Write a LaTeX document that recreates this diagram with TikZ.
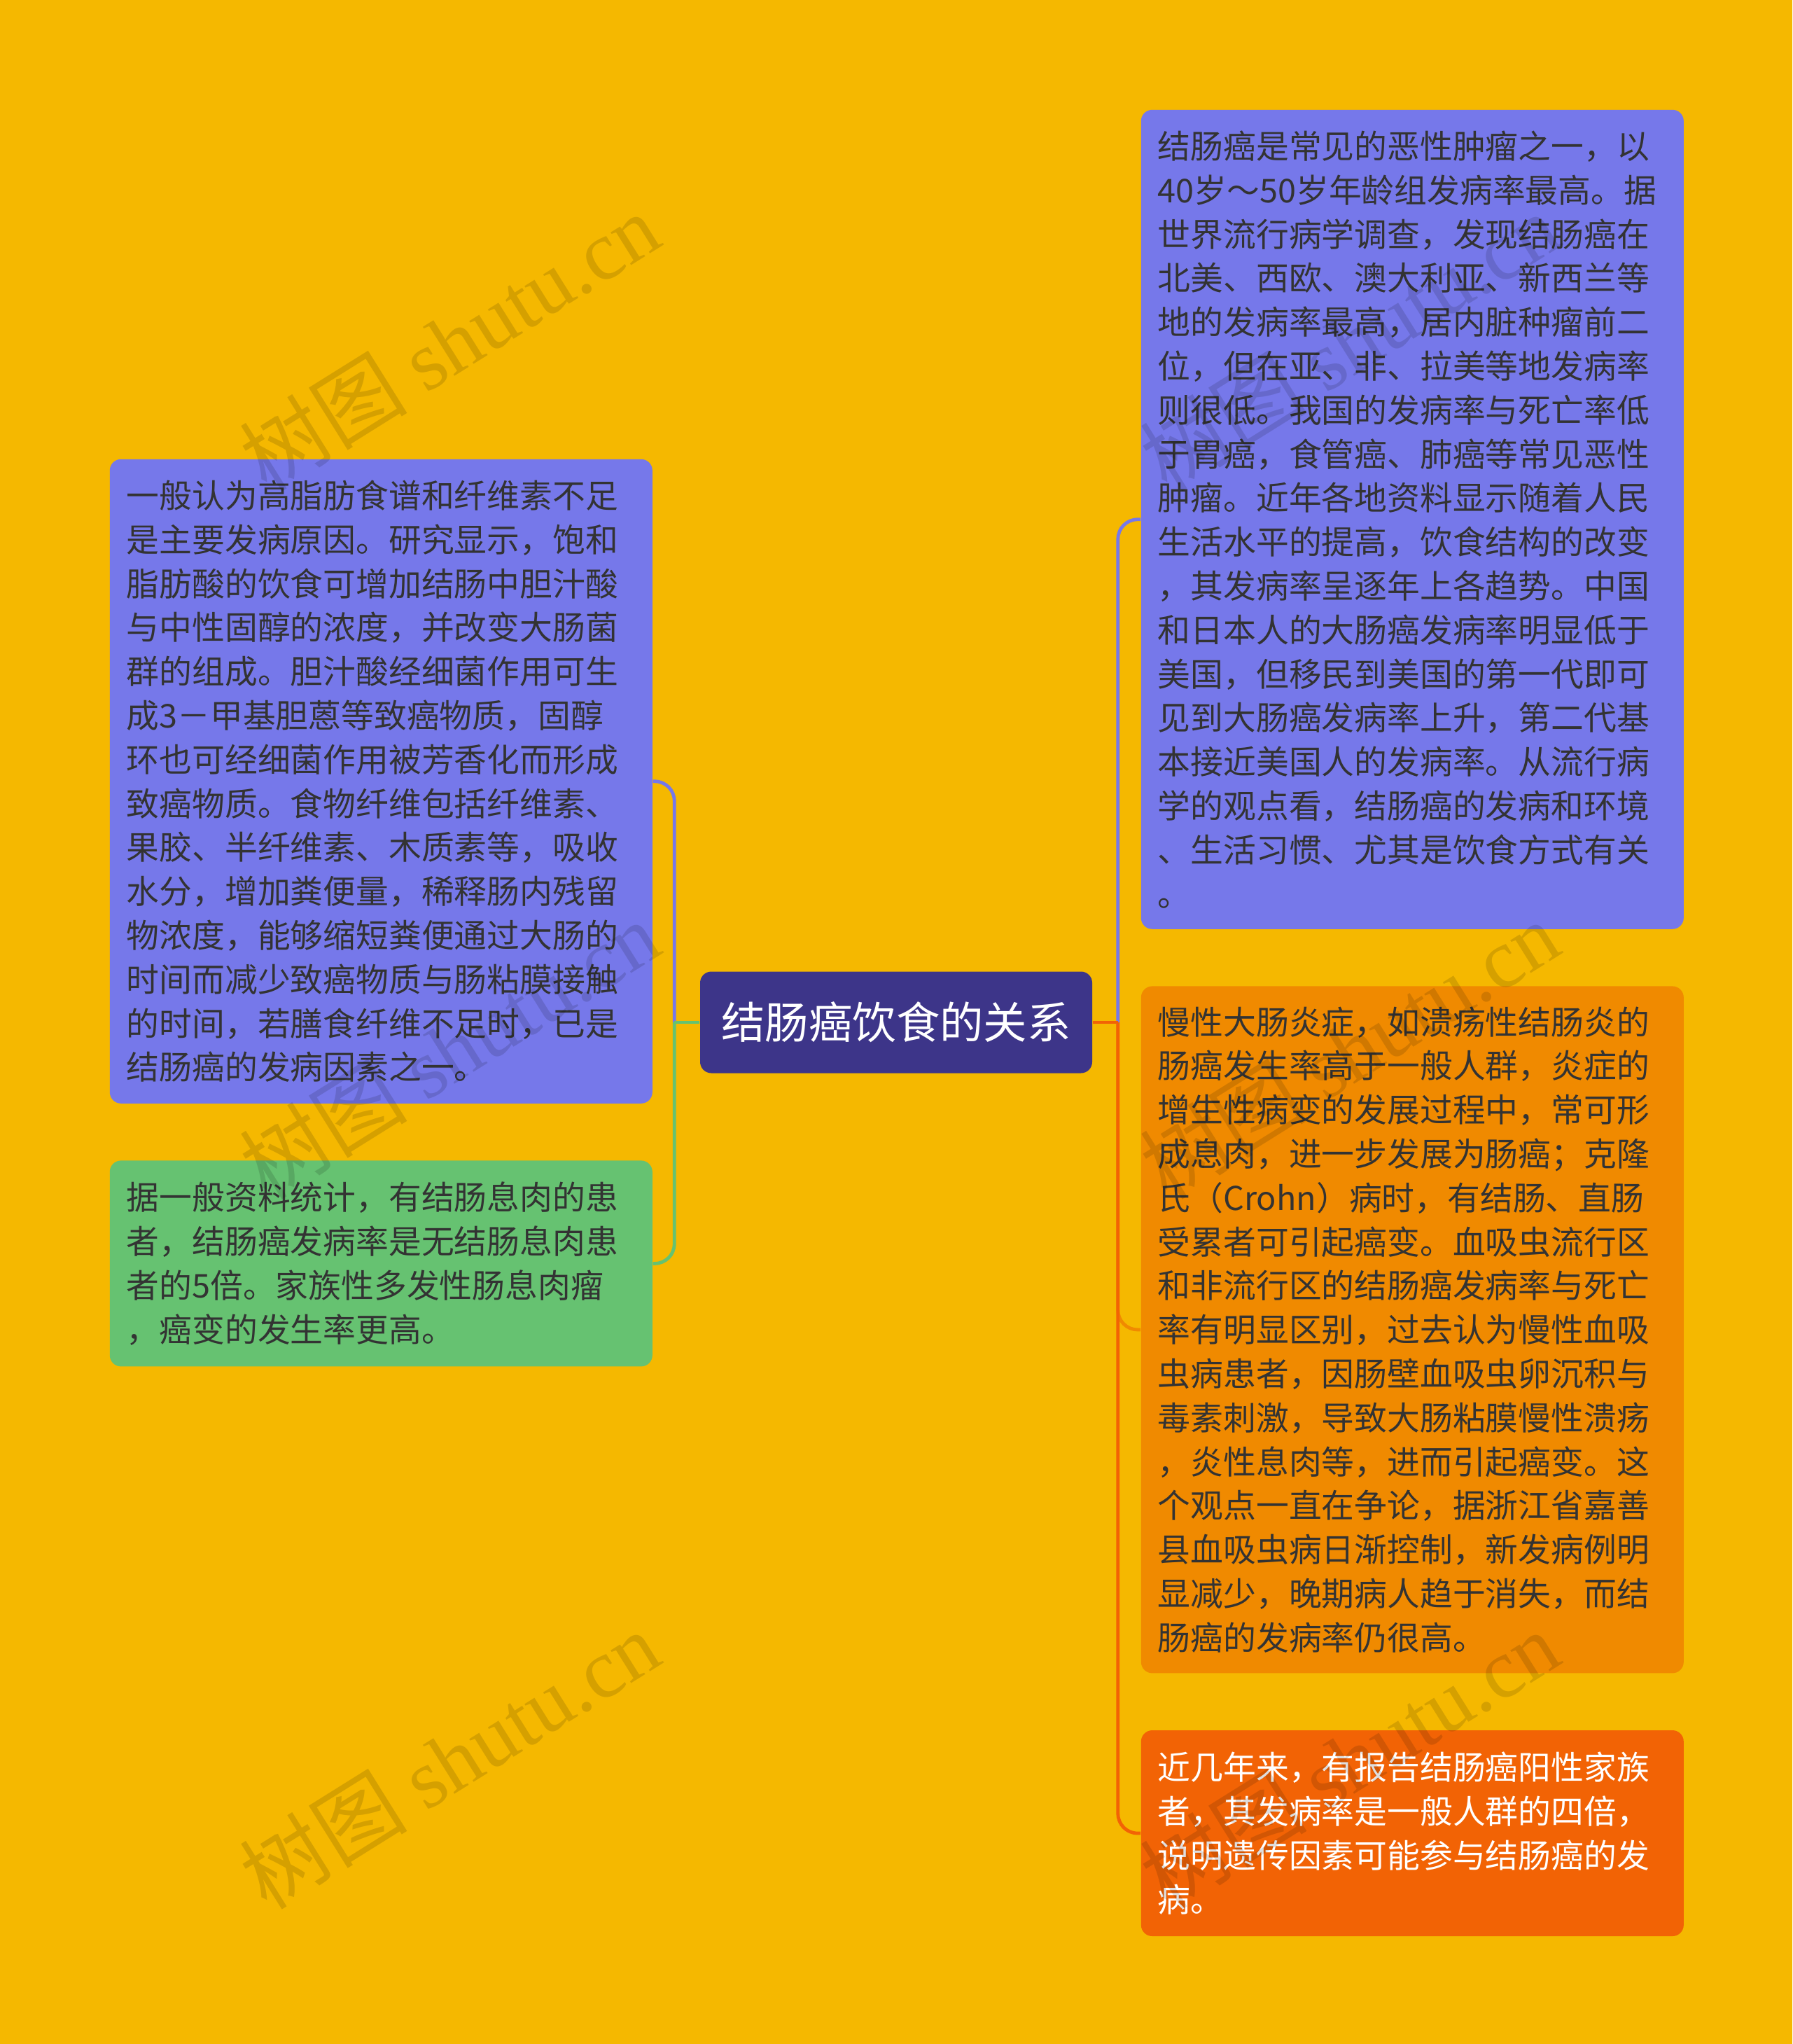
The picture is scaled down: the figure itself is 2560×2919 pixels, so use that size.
\documentclass[tikz,border=0pt]{standalone}
\usepackage{fontspec}
\setmainfont{Noto Sans CJK SC}
\newfontfamily\wmlatin{Liberation Serif}
\usetikzlibrary{positioning}

\definecolor{bgyellow}{HTML}{F5B800}
\definecolor{leafblue}{HTML}{7678EA}
\definecolor{rootblue}{HTML}{3D3589}
\definecolor{leaforange}{HTML}{F08A00}
\definecolor{leafred}{HTML}{F26305}
\definecolor{leafgreen}{HTML}{66C271}
\definecolor{txtdark}{HTML}{333333}

\tikzset{
  leaf/.style={rectangle, rounded corners=4pt, anchor=north west, align=left,
    text width=181.75pt, inner xsep=6pt, inner ysep=0pt, minimum width=193.75pt,
    text=txtdark, font=\fontsize{11.7}{15.7}\selectfont},
  link/.style={line width=1.2pt, rounded corners=7pt},
  mark text/.style={rotate=32, text=black, text opacity=0.13, font=\fontsize{30}{30}\selectfont},
}

\begin{document}
\begin{tikzpicture}[x=0.25pt, y=-0.25pt]
  \fill[bgyellow] (0,0) rectangle (2560,2919);
  \useasboundingbox (0,0) rectangle (2560,2919);

  % centre
  \node[rectangle, rounded corners=4pt, fill=rootblue, text=white, minimum width=140pt,
    minimum height=36.25pt, font=\fontsize{15.6}{18}\selectfont] (root) at (1280,1460) {结肠癌饮食的关系};
  \coordinate (ltrunk) at ([xshift=-9pt]root.west);
  \coordinate (rtrunk) at ([xshift=9pt]root.east);

  % left side
  \node[leaf, fill=leafblue, minimum height=230pt] (diet) at (156,655) {一般认为高脂肪食谱和纤维素不足\\是主要发病原因。研究显示，饱和\\脂肪酸的饮食可增加结肠中胆汁酸\\与中性固醇的浓度，并改变大肠菌\\群的组成。胆汁酸经细菌作用可生\\成3－甲基胆蒽等致癌物质，固醇\\环也可经细菌作用被芳香化而形成\\致癌物质。食物纤维包括纤维素、\\果胶、半纤维素、木质素等，吸收\\水分，增加粪便量，稀释肠内残留\\物浓度，能够缩短粪便通过大肠的\\时间而减少致癌物质与肠粘膜接触\\的时间，若膳食纤维不足时，已是\\结肠癌的发病因素之一。};
  \node[leaf, fill=leafgreen, minimum height=73.5pt, below=20pt of diet] (polyp) {据一般资料统计，有结肠息肉的患\\者，结肠癌发病率是无结肠息肉患\\者的5倍。家族性多发性肠息肉瘤\\，癌变的发生率更高。};

  % right side
  \node[leaf, fill=leafblue, minimum height=292.5pt] (epid) at (1629,156) {结肠癌是常见的恶性肿瘤之一，以\\40岁～50岁年龄组发病率最高。据\\世界流行病学调查，发现结肠癌在\\北美、西欧、澳大利亚、新西兰等\\地的发病率最高，居内脏种瘤前二\\位，但在亚、非、拉美等地发病率\\则很低。我国的发病率与死亡率低\\于胃癌，食管癌、肺癌等常见恶性\\肿瘤。近年各地资料显示随着人民\\生活水平的提高，饮食结构的改变\\，其发病率呈逐年上各趋势。中国\\和日本人的大肠癌发病率明显低于\\美国，但移民到美国的第一代即可\\见到大肠癌发病率上升，第二代基\\本接近美国人的发病率。从流行病\\学的观点看，结肠癌的发病和环境\\、生活习惯、尤其是饮食方式有关\\。};
  \node[leaf, fill=leaforange, minimum height=245.25pt, below=20pt of epid] (colitis) {慢性大肠炎症，如溃疡性结肠炎的\\肠癌发生率高于一般人群，炎症的\\增生性病变的发展过程中，常可形\\成息肉，进一步发展为肠癌；克隆\\氏（Crohn）病时，有结肠、直肠\\受累者可引起癌变。血吸虫流行区\\和非流行区的结肠癌发病率与死亡\\率有明显区别，过去认为慢性血吸\\虫病患者，因肠壁血吸虫卵沉积与\\毒素刺激，导致大肠粘膜慢性溃疡\\，炎性息肉等，进而引起癌变。这\\个观点一直在争论，据浙江省嘉善\\县血吸虫病日渐控制，新发病例明\\显减少，晚期病人趋于消失，而结\\肠癌的发病率仍很高。};
  \node[leaf, fill=leafred, text=white, minimum height=73.5pt, below=20pt of colitis] (family) {近几年来，有报告结肠癌阳性家族\\者，其发病率是一般人群的四倍，\\说明遗传因素可能参与结肠癌的发\\病。};

  \draw[link, leafblue] (ltrunk) |- (diet.east);
  \draw[link, leafgreen] (ltrunk) |- (polyp.east);
  \draw[line width=1.2pt, leafgreen] (root.west) -- (ltrunk);
  \draw[link, leafblue] (rtrunk) |- (epid.west);
  \draw[link, leaforange] (rtrunk) |- (colitis.west);
  \draw[link, leafred] (rtrunk) |- (family.west);
  \draw[line width=1.2pt, leafred] (root.east) -- (rtrunk);

  % watermarks
  \foreach \wx in {642,1927}
    \foreach \wy in {488,1499,2513}
      \node[mark text] (wm-\wx-\wy) at (\wx,\wy) {树图 {\wmlatin shutu.cn}};
\end{tikzpicture}
\end{document}
